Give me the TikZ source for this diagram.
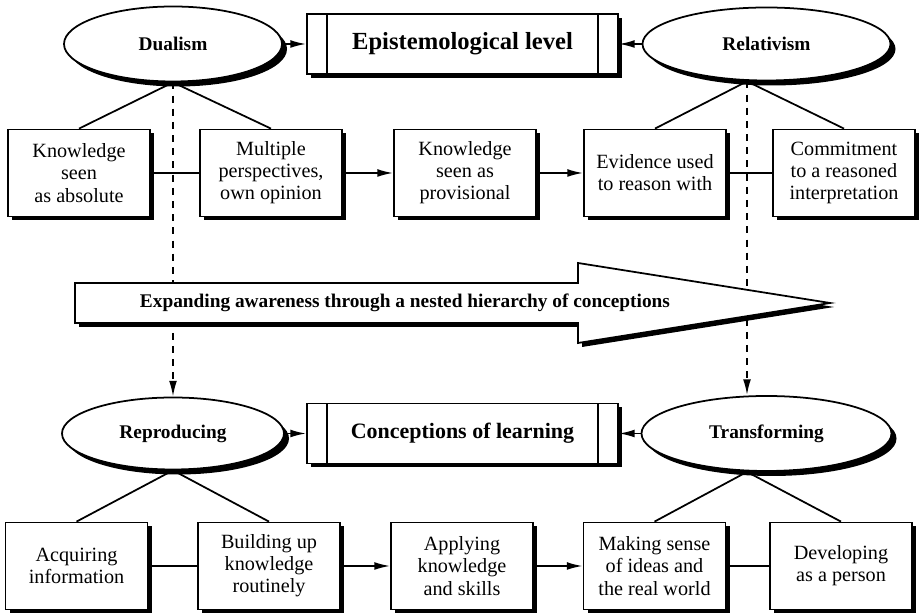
\documentclass[tikz,border=0pt]{standalone}
\usepackage{fontspec}
\setmainfont{Liberation Serif}
\usetikzlibrary{shapes.geometric,shadows,arrows.meta}

\begin{document}
\begin{tikzpicture}[>={Latex[length=9pt,width=4.5pt]},line width=1pt,
ombre/.style={drop shadow={shadow xshift=0.08cm,shadow yshift=-0.08cm,fill=black,opacity=1}},
boite/.style={draw,fill=white,ombre,align=center,minimum width=2.84cm,minimum height=1.74cm,inner sep=1pt,font=\fontsize{11.5}{12.6}\selectfont},
pole/.style={draw,ellipse,fill=white,inner sep=0pt,font=\fontsize{11}{13}\selectfont\bfseries,drop shadow={shadow xshift=0.1cm,shadow yshift=-0.1cm,fill=black,opacity=1}},
titre/.style={draw,fill=white,ombre,minimum width=6.22cm,minimum height=1.2cm,
path picture={
\draw ([xshift=0.4cm]path picture bounding box.north west)--([xshift=0.4cm]path picture bounding box.south west);
\draw ([xshift=-0.4cm]path picture bounding box.north east)--([xshift=-0.4cm]path picture bounding box.south east);}},
pointille/.style={dash pattern=on 4pt off 3.5pt}]

\useasboundingbox (0,0) rectangle (18.42,12.28);

\node[pole,minimum width=4.36cm,minimum height=1.5cm] (dual) at (3.46,11.40){Dualism};
\node[pole,minimum width=4.96cm,minimum height=1.46cm] (rel) at (15.33,11.40){Relativism};
\node[titre,font=\fontsize{14}{16}\selectfont\bfseries] (epi) at (9.25,11.40){Epistemological level};

\node[pole,minimum width=4.44cm,minimum height=1.44cm] (repro) at (3.46,3.61){Reproducing};
\node[pole,minimum width=5cm,minimum height=1.5cm] (trans) at (15.33,3.61){Transforming};
\node[titre,font=\fontsize{12.5}{15}\selectfont\bfseries] (concept) at (9.25,3.61){Conceptions of learning};

\node[boite] (k1) at (1.58,8.82){Knowledge\\seen\\as absolute};
\node[boite] (k2) at (5.42,8.82){Multiple\\perspectives,\\own opinion};
\node[boite] (k3) at (9.30,8.82){Knowledge\\seen as\\provisional};
\node[boite] (k4) at (13.10,8.82){Evidence used\\to reason with};
\node[boite] (k5) at (16.88,8.82){Commitment\\to a reasoned\\interpretation};

\node[boite] (l1) at (1.53,0.96){Acquiring\\information};
\node[boite] (l2) at (5.38,0.96){Building up\\knowledge\\routinely};
\node[boite] (l3) at (9.24,0.96){Applying\\knowledge\\and skills};
\node[boite] (l4) at (13.09,0.96){Making sense\\of ideas and\\the real world};
\node[boite] (l5) at (16.82,0.96){Developing\\as a person};

\coordinate (relv) at ([xshift=-0.39cm]rel.south);
\coordinate (transv) at ([xshift=-0.39cm]trans.north);
\coordinate (transb) at ([xshift=-0.39cm]trans.south);

\draw[->,pointille] (dual.south)--(repro.north);

\draw[->,pointille] (relv)--(transv);

\draw[fill=white,ombre]
(1.5,6.62)--(11.56,6.62)--(11.56,7.02)--(16.6,6.22)--(11.56,5.42)--(11.56,5.82)--(1.5,5.82)--cycle;

\node[font=\fontsize{11}{13}\selectfont\bfseries] (aware) at (8.1,6.22){Expanding awareness through a nested hierarchy of conceptions};

\draw[->] (dual)--(epi);
\draw[->] (rel)--(epi);
\draw[->] (repro)--(concept);
\draw[->] (trans)--(concept);

\draw (dual.south)--(k1.north);
\draw (dual.south)--(k2.north);
\draw (relv)--(k4.north);
\draw (relv)--(k5.north);

\draw (repro.south)--(l1.north);
\draw (repro.south)--(l2.north);
\draw (transb)--(l4.north);
\draw (transb)--(l5.north);

\draw (k1)--(k2);
\draw[->] (k2)--(k3);
\draw[->] (k3)--(k4);
\draw (k4)--(k5);

\draw (l1)--(l2);
\draw[->] (l2)--(l3);
\draw[->] (l3)--(l4);
\draw (l4)--(l5);

\end{tikzpicture}
\end{document}
